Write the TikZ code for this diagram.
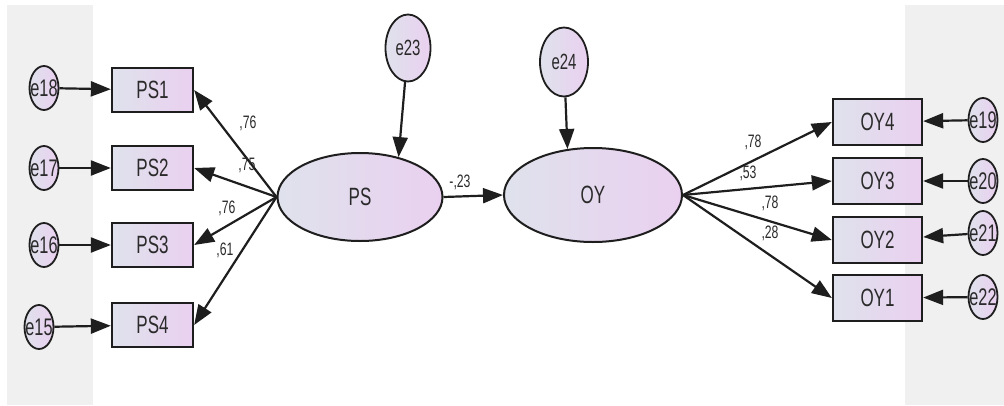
\documentclass[tikz,border=0pt]{standalone}
\usepackage{fontspec}
\setmainfont{Liberation Sans}[FakeStretch=0.68]
\usepackage{tikz}
\usetikzlibrary{shapes.geometric,arrows.meta}
\definecolor{panel}{HTML}{F0F0F0}
\definecolor{ink}{HTML}{1E1E1E}
\definecolor{txt}{HTML}{2A2A2A}
\definecolor{fillL}{HTML}{DFE2EC}
\definecolor{fillR}{HTML}{EAD0F0}
\tikzset{
  obs/.style={draw=ink, line width=2.3pt, left color=fillL, right color=fillR, minimum height=44pt, inner sep=0pt, text=txt, font=\fontsize{25}{28}\selectfont},
  lat/.style={ellipse, draw=ink, line width=2pt, left color=fillL, right color=fillR, inner sep=0pt, text=txt, font=\fontsize{25}{28}\selectfont},
  err/.style={ellipse, draw=ink, line width=1.8pt, left color=fillL, right color=fillR, inner sep=0pt, minimum width=29pt, minimum height=44pt, text=txt, font=\fontsize{24}{26}\selectfont},
  arr/.style={draw=ink, line width=2.2pt, -{Triangle[length=20pt,width=15pt]}},
  coef/.style={text=txt, font=\fontsize{18}{20}\selectfont, inner sep=0pt},
}

\begin{document}
\begin{tikzpicture}[x=1pt,y=-1pt]
  \useasboundingbox (0,0) rectangle (1004,405);
  \fill[panel] (7,5) rectangle (93,405);
  \fill[panel] (905,5) rectangle (1004,405);

  % latent variables and their errors
  \node[lat, minimum width=165pt, minimum height=88pt] (PS) at (360,197) {PS};
  \node[lat, minimum width=178pt, minimum height=94pt] (OY) at (593,195) {OY};
  \node[err, minimum width=45pt, minimum height=67pt, font=\fontsize{22}{24}\selectfont] (e23) at (408,48) {e23};
  \node[err, minimum width=48pt, minimum height=69pt, font=\fontsize{22}{24}\selectfont] (e24) at (564,62) {e24};

  % PS indicators
  \node[obs, minimum width=81pt] (PS1) at (152.5,90) {PS1};
  \node[obs, minimum width=81pt] (PS2) at (152.5,168) {PS2};
  \node[obs, minimum width=81pt] (PS3) at (152.5,245) {PS3};
  \node[obs, minimum width=81pt] (PS4) at (152.5,325) {PS4};
  \node[err] (e18) at (44,88) {\makebox[0pt]{e18}};
  \node[err] (e17) at (44,168) {\makebox[0pt]{e17}};
  \node[err] (e16) at (44,245) {\makebox[0pt]{e16}};
  \node[err] (e15) at (39,327) {\makebox[0pt]{e15}};

  % OY indicators
  \node[obs, minimum width=89pt, minimum height=46pt] (OY4) at (877.5,122) {OY4};
  \node[obs, minimum width=89pt, minimum height=46pt] (OY3) at (877.5,181) {OY3};
  \node[obs, minimum width=89pt, minimum height=46pt] (OY2) at (877.5,240) {OY2};
  \node[obs, minimum width=89pt, minimum height=46pt] (OY1) at (877.5,298) {OY1};
  \node[err] (e19) at (983,120) {\makebox[0pt]{e19}};
  \node[err] (e20) at (983,181) {\makebox[0pt]{e20}};
  \node[err] (e21) at (983,233) {\makebox[0pt]{e21}};
  \node[err] (e22) at (983,297) {\makebox[0pt]{e22}};

  % paths
  \draw[arr] (PS.west) -- (PS1.east);
  \draw[arr] (PS.west) -- (PS2.east);
  \draw[arr] (PS.west) -- (PS3.east);
  \draw[arr] (PS.west) -- (PS4.east);
  \draw[arr] (e18) -- (PS1);
  \draw[arr] (e17) -- (PS2);
  \draw[arr] (e16) -- (PS3);
  \draw[arr] (e15) -- (PS4);
  \draw[arr] (OY.east) -- (OY4.west);
  \draw[arr] (OY.east) -- (OY3.west);
  \draw[arr] (OY.east) -- (OY2.west);
  \draw[arr] (OY.east) -- (OY1.west);
  \draw[arr] (e19) -- (OY4);
  \draw[arr] (e20) -- (OY3);
  \draw[arr] (e21) -- (OY2);
  \draw[arr] (e22) -- (OY1);
  \draw[arr] (e23) -- (PS.46);
  \draw[arr] (e24) -- (OY.119);
  \draw[arr] (PS.east) -- (OY.west);

  % estimates
  \node[coef] (w1) at (248,123) {,76};
  \node[coef] (w2) at (247,165) {,75};
  \node[coef] (w3) at (227,208) {,76};
  \node[coef] (w4) at (225,250) {,61};
  \node[coef] (b1) at (460,182) {-,23};
  \node[coef] (v4) at (753,142) {,78};
  \node[coef] (v3) at (748,173) {,53};
  \node[coef] (v2) at (770,203) {,78};
  \node[coef] (v1) at (770,233) {,28};
\end{tikzpicture}
\end{document}
